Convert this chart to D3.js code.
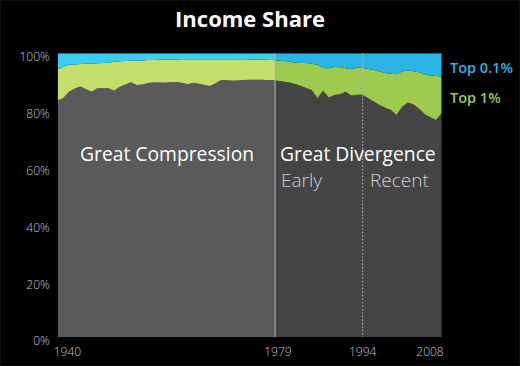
<!DOCTYPE html>
<html>
<head>
<meta charset="utf-8">
<script src="https://cdn.jsdelivr.net/npm/d3@7"></script>
<style>
  html, body { margin: 0; padding: 0; background: #000; }
  svg { display: block; font-family: "Open Sans", "DejaVu Sans", sans-serif; }
</style>
</head>
<body>
<svg id="chart" width="520" height="366"></svg>
<script>
// years 1940..2008, one value per year
var years = d3.range(1940, 2009);

// share of income going to the top 1% (percent)
var top1Share = [
    16.6, 15.7, 13.5, 12.5, 11.7, 12.7, 13.5, 12.3, 12.3, 12.3,
    13.2, 11.8, 11.0, 10.2, 11.2, 11.0, 10.5, 10.3, 10.3, 10.4,
    10.2, 10.1, 10.4, 10.9, 10.4, 10.7, 11.2, 11.5, 10.5, 9.4,
    9.5, 9.7, 9.6, 9.4, 9.3, 9.3, 9.3, 9.4, 9.4, 9.7,
    10.0, 10.3, 10.8, 11.4, 12.2, 12.9, 15.8, 13.2, 15.6, 14.7,
    14.4, 13.5, 14.9, 14.6, 14.6, 15.8, 17.0, 18.2, 19.2, 20.0,
    21.7, 18.8, 17.3, 18.0, 19.5, 21.5, 22.5, 23.5, 21.1
];

// share of income going to the top 0.1% (percent)
var top01Share = [
    5.7, 4.7, 4.0, 3.9, 3.8, 3.7, 3.6, 3.5, 3.4, 3.3,
    3.0, 2.8, 2.7, 2.6, 2.5, 2.5, 2.4, 2.4, 2.3, 2.3,
    2.2, 2.2, 2.1, 2.1, 2.1, 2.1, 2.1, 2.1, 2.1, 2.1,
    2.1, 2.1, 2.1, 2.1, 2.2, 2.2, 2.2, 2.3, 2.4, 2.5,
    2.7, 2.9, 3.2, 3.4, 3.4, 3.7, 4.0, 5.2, 5.3, 4.8,
    4.9, 5.3, 5.6, 5.0, 5.2, 5.5, 5.9, 6.4, 6.9, 7.2,
    7.4, 6.4, 6.1, 6.3, 6.7, 7.4, 7.8, 8.0, 8.1
];

var yTicks = [0, 20, 40, 60, 80, 100];
var xTicks = [1940, 1979, 1994, 2008];
var seriesKeys = ["bottom", "top1", "top01"];
var eraSplit = 1978.5,
    recentStart = 1994;

var svg = d3.select("#chart"),
    width = +svg.attr("width"),
    height = +svg.attr("height"),
    plot = { left: 57.7, right: 441.7, top: 53.3, bottom: 337.3 };

var x = d3.scaleLinear().domain([1940, 2008]).range([plot.left, plot.right]),
    y = d3.scaleLinear().domain([0, 100]).range([plot.bottom, plot.top]);

// colours: lighter before 1979, darker after
var palettes = {
    early: { bottom: "#5a5a5a", top1: "#c5df6d", top01: "#3ccdf0" },
    late: { bottom: "#444444", top1: "#9dcb4d", top01: "#2bb5e6" }
};

var rows = years.map(function (yr, i) {
    return {
        year: yr,
        bottom: 100 - top1Share[i],
        top1: top1Share[i] - top01Share[i],
        top01: top01Share[i]
    };
});

var stacked = d3.stack().keys(seriesKeys)(rows);

var area = d3.area()
    .x(function (d) { return x(d.data.year); })
    .y0(function (d) { return y(d[0]); })
    .y1(function (d) { return y(d[1]); });

svg.append("rect")
    .attr("width", width).attr("height", height)
    .attr("fill", "#000")
    .attr("stroke", "#1c1c1c");

var defs = svg.append("defs");
defs.append("clipPath").attr("id", "clip-early")
    .append("rect")
    .attr("x", plot.left).attr("y", plot.top)
    .attr("width", x(eraSplit) - plot.left)
    .attr("height", plot.bottom - plot.top);
defs.append("clipPath").attr("id", "clip-late")
    .append("rect")
    .attr("x", x(eraSplit)).attr("y", plot.top)
    .attr("width", plot.right - x(eraSplit))
    .attr("height", plot.bottom - plot.top);

["early", "late"].forEach(function (era) {
    svg.append("g")
        .attr("clip-path", "url(#clip-" + era + ")")
        .selectAll("path")
        .data(stacked)
        .join("path")
        .attr("d", area)
        .attr("fill", function (d) { return palettes[era][d.key]; });
});

// era dividers
svg.append("line")
    .attr("x1", x(eraSplit)).attr("x2", x(eraSplit))
    .attr("y1", plot.top).attr("y2", plot.bottom)
    .attr("stroke", "#b5b5b5").attr("stroke-width", 1);

svg.append("line")
    .attr("x1", x(recentStart)).attr("x2", x(recentStart))
    .attr("y1", plot.top).attr("y2", plot.bottom)
    .attr("stroke", "#bdbdbd").attr("stroke-width", 1)
    .attr("stroke-dasharray", "1.5,2");

// y axis labels
svg.append("g")
    .selectAll("text")
    .data(yTicks)
    .join("text")
    .attr("x", plot.left - 8)
    .attr("y", function (d) { return y(d) + 8; })
    .attr("text-anchor", "end")
    .attr("fill", "#c8c8c8")
    .attr("font-size", 12)
    .attr("font-weight", 300)
    .text(function (d) { return d + "%"; });

// x axis labels
svg.append("g")
    .selectAll("text")
    .data(xTicks)
    .join("text")
    .attr("x", function (d, i) {
        if (i === 0) return x(d) - 4;
        if (i === xTicks.length - 1) return x(d) + 2;
        return x(d);
    })
    .attr("y", 356)
    .attr("text-anchor", function (d, i) {
        if (i === 0) return "start";
        if (i === xTicks.length - 1) return "end";
        return "middle";
    })
    .attr("fill", "#c8c8c8")
    .attr("font-size", 12)
    .attr("font-weight", 300)
    .text(function (d) { return d; });

// title
svg.append("text")
    .attr("x", 250).attr("y", 27)
    .attr("text-anchor", "middle")
    .attr("fill", "#fff")
    .attr("font-size", 22)
    .attr("font-weight", "bold")
    .text("Income Share");

// era labels
svg.append("text")
    .attr("x", 80).attr("y", 161)
    .attr("fill", "#fff")
    .attr("font-size", 19.3)
    .text("Great Compression");

svg.append("text")
    .attr("x", 280).attr("y", 161)
    .attr("fill", "#fff")
    .attr("font-size", 19.3)
    .text("Great Divergence");

svg.append("text")
    .attr("x", 281).attr("y", 187)
    .attr("fill", "#cfcfcf")
    .attr("font-size", 19)
    .attr("font-weight", 300)
    .text("Early");

svg.append("text")
    .attr("x", 370).attr("y", 187)
    .attr("fill", "#cfcfcf")
    .attr("font-size", 19)
    .attr("font-weight", 300)
    .text("Recent");

// legend
svg.append("text")
    .attr("x", 450).attr("y", 73)
    .attr("fill", palettes.late.top01)
    .attr("font-size", 14.5)
    .attr("font-weight", 600)
    .text("Top 0.1%");

svg.append("text")
    .attr("x", 450).attr("y", 103)
    .attr("fill", palettes.late.top1)
    .attr("font-size", 14.5)
    .attr("font-weight", 600)
    .text("Top 1%");
</script>
</body>
</html>
